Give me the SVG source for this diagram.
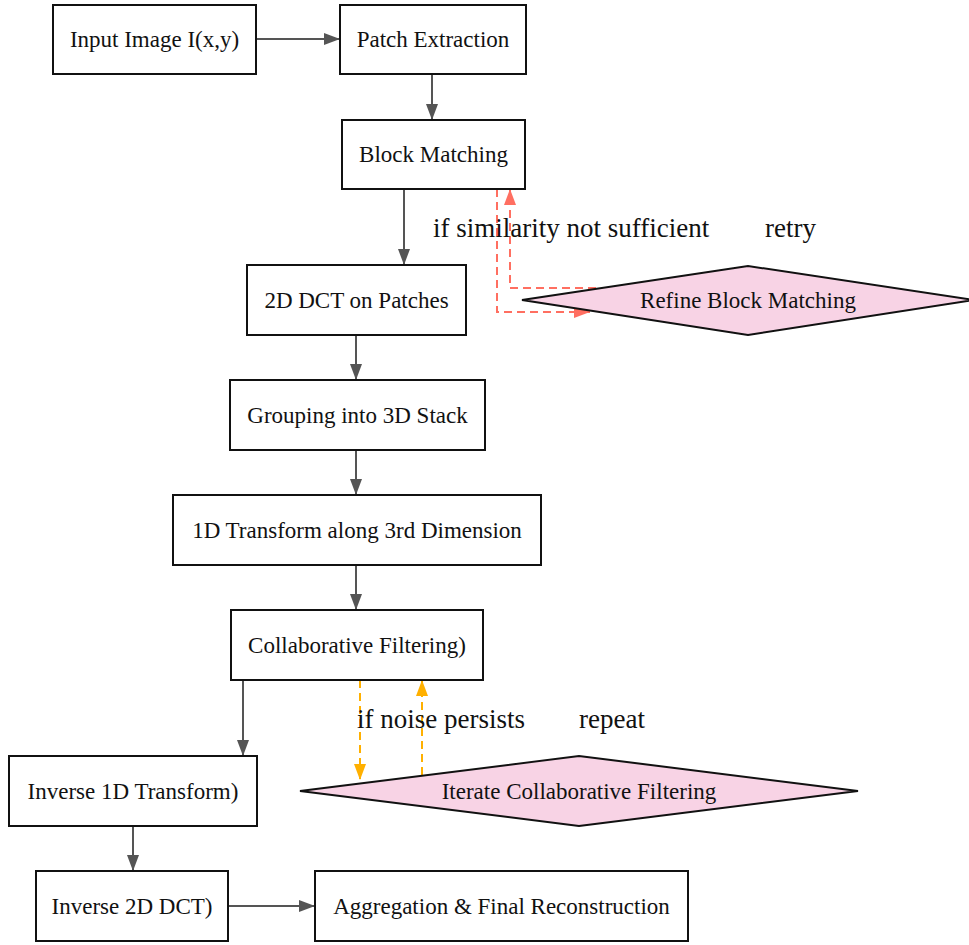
<svg xmlns="http://www.w3.org/2000/svg" width="969" height="945" viewBox="0 0 969 945">
  <defs>
    <marker id="ah-grey" viewBox="0 0 16 12" refX="16" refY="6" markerWidth="16" markerHeight="12" markerUnits="userSpaceOnUse" orient="auto">
      <path d="M0,0 L16,6 L0,12 z" fill="#555555"/>
    </marker>
    <marker id="ah-red" viewBox="0 0 16 12" refX="16" refY="6" markerWidth="16" markerHeight="12" markerUnits="userSpaceOnUse" orient="auto">
      <path d="M0,0 L16,6 L0,12 z" fill="#ff6f61"/>
    </marker>
    <marker id="ah-amber" viewBox="0 0 16 12" refX="16" refY="6" markerWidth="16" markerHeight="12" markerUnits="userSpaceOnUse" orient="auto">
      <path d="M0,0 L16,6 L0,12 z" fill="#ffb000"/>
    </marker>
  </defs>
  <style>
    .box { fill: #ffffff; stroke: #111111; stroke-width: 2; }
    .dia { fill: #f8d3e5; stroke: #111111; stroke-width: 2; }
    .nt { font-family: "Liberation Serif", "Times New Roman", serif; font-size: 23px; fill: #111111; text-anchor: middle; dominant-baseline: central; }
    .lbl { font-family: "Liberation Serif", "Times New Roman", serif; font-size: 27px; fill: #111111; }
    .e { fill: none; stroke: #555555; stroke-width: 2; marker-end: url(#ah-grey); }
    .er { fill: none; stroke: #ff6f61; stroke-width: 2; stroke-dasharray: 8 5; marker-end: url(#ah-red); }
    .ea { fill: none; stroke: #ffb000; stroke-width: 2; stroke-dasharray: 8 5; marker-end: url(#ah-amber); }
  </style>
  <rect width="969" height="945" fill="#ffffff"/>

  <g id="connectors">
    <path class="e" d="M256,39 L340,39"/>
    <path class="e" d="M432,74 L432,120"/>
    <path class="e" d="M404,189 L404,265"/>
    <path class="e" d="M356,335 L356,380"/>
    <path class="e" d="M356,450 L356,495"/>
    <path class="e" d="M356,565 L356,610"/>
    <path class="e" d="M243,680 L243,756"/>
    <path class="e" d="M133,826 L133,871"/>
    <path class="e" d="M228,906 L315,906"/>
    <path class="er" d="M497,189 L497,312 L590,312"/>
    <path class="er" d="M596,288 L510,288 L510,189"/>
    <path class="ea" d="M360,680 L360,780"/>
    <path class="ea" d="M422,775 L422,680"/>
    <text class="lbl" x="433" y="237">if similarity not sufficient</text>
    <text class="lbl" x="765" y="237">retry</text>
    <text class="lbl" x="357" y="728">if noise persists</text>
    <text class="lbl" x="579" y="728">repeat</text>
  </g>

  <g id="input-image">
    <rect class="box" x="53" y="5" width="203" height="69"/>
    <text class="nt" x="154.5" y="39.5">Input Image I(x,y)</text>
  </g>
  <g id="patch-extraction">
    <rect class="box" x="340" y="5" width="186" height="69"/>
    <text class="nt" x="433" y="39.5">Patch Extraction</text>
  </g>
  <g id="block-matching">
    <rect class="box" x="342" y="120" width="183" height="69"/>
    <text class="nt" x="433.5" y="154.5">Block Matching</text>
  </g>
  <g id="dct-2d">
    <rect class="box" x="247" y="265" width="219" height="70"/>
    <text class="nt" x="356.5" y="300">2D DCT on Patches</text>
  </g>
  <g id="refine-block-matching">
    <polygon class="dia" points="522,300 748,266 974,300 748,335"/>
    <text class="nt" x="748" y="300">Refine Block Matching</text>
  </g>
  <g id="grouping-3d">
    <rect class="box" x="230" y="380" width="255" height="70"/>
    <text class="nt" x="357.5" y="415">Grouping into 3D Stack</text>
  </g>
  <g id="transform-1d">
    <rect class="box" x="173" y="495" width="368" height="70"/>
    <text class="nt" x="357" y="530">1D Transform along 3rd Dimension</text>
  </g>
  <g id="collaborative-filtering">
    <rect class="box" x="231" y="610" width="252" height="70"/>
    <text class="nt" x="357" y="645">Collaborative Filtering)</text>
  </g>
  <g id="iterate-filtering">
    <polygon class="dia" points="300,791 579,756 858,791 579,826"/>
    <text class="nt" x="579" y="791">Iterate Collaborative Filtering</text>
  </g>
  <g id="inverse-1d">
    <rect class="box" x="9" y="756" width="248" height="70"/>
    <text class="nt" x="133" y="791">Inverse 1D Transform)</text>
  </g>
  <g id="inverse-2d-dct">
    <rect class="box" x="36" y="871" width="192" height="70"/>
    <text class="nt" x="132" y="906">Inverse 2D DCT)</text>
  </g>
  <g id="aggregation">
    <rect class="box" x="315" y="871" width="373" height="70"/>
    <text class="nt" x="501.5" y="906">Aggregation &amp; Final Reconstruction</text>
  </g>
</svg>
